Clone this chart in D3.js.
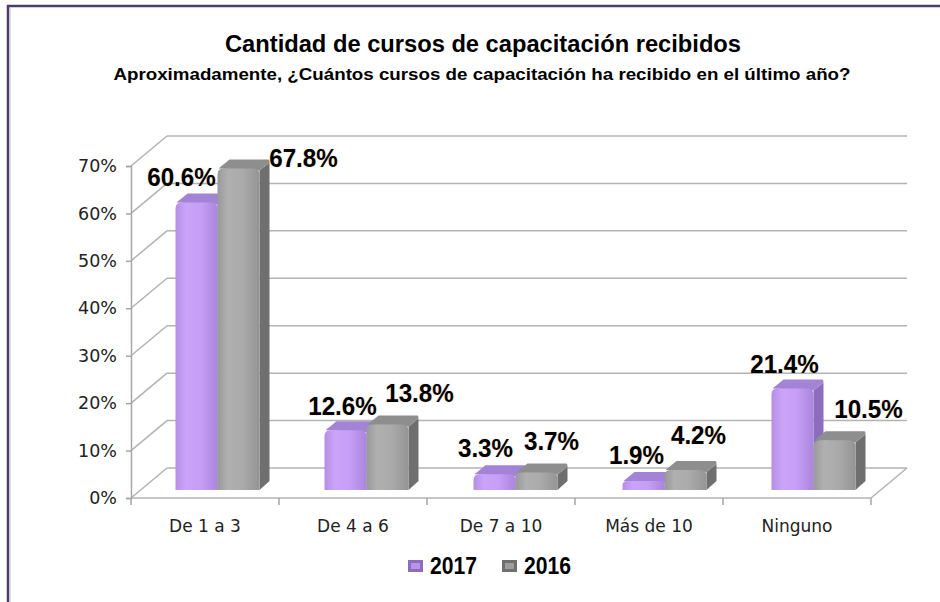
<!DOCTYPE html>
<html>
<head>
<meta charset="utf-8">
<script src="https://cdn.jsdelivr.net/npm/d3@7"></script>
<style>
  body { margin: 0; background: #fff; }
  svg { display: block; }
</style>
</head>
<body>
<div id="chart"></div>
<script>
const categories = ["De 1 a 3", "De 4 a 6", "De 7 a 10", "Más de 10", "Ninguno"];
const values2017 = [60.6, 12.6, 3.3, 1.9, 21.4];
const values2016 = [67.8, 13.8, 3.7, 4.2, 10.5];
const seriesNames = ["2017", "2016"];
const yTicks = [0, 10, 20, 30, 40, 50, 60, 70];

// label nudges (Excel placed these by hand)
const nudge2017 = [[-15, -26], [-3, -25], [-9, -27], [-7, -26], [-8, -25]];
const nudge2016 = [[65, -11], [32, -32], [15, -32], [13, -35], [34, -32]];

const width = 940, height = 602;
const DX = 36, DY = -30;          // depth of the box
const BDX = 10, BDY = -9;         // depth of a bar
const barShift = [10, -8];        // bars sit a bit into the box

const svg = d3.select("#chart").append("svg")
    .attr("width", width)
    .attr("height", height);

// squeeze text horizontally so Arial looks closer to Calibri
function condense(sel, f) {
    sel.each(function () {
        const w = this.getComputedTextLength();
        d3.select(this).attr("textLength", w * f).attr("lengthAdjust", "spacingAndGlyphs");
    });
}

const defs = svg.append("defs");
function grad(id, stops) {
    const g = defs.append("linearGradient").attr("id", id)
        .attr("x1", "0%").attr("x2", "100%").attr("y1", "0%").attr("y2", "0%");
    stops.forEach(s => g.append("stop").attr("offset", s[0]).attr("stop-color", s[1]));
}
grad("front2017", [["0%", "#b48de5"], ["25%", "#cba4f9"], ["60%", "#c69ef5"], ["100%", "#ab84dd"]]);
grad("front2016", [["0%", "#999999"], ["25%", "#b0b0b0"], ["60%", "#aaaaaa"], ["100%", "#949494"]]);

const palette = {
    "2017": { front: "url(#front2017)", top: "#a283d6", side: "#8c6cbd", flat: "#b893ea" },
    "2016": { front: "url(#front2016)", top: "#8e8e8e", side: "#6f6f6f", flat: "#9d9d9d" }
};

// frame
svg.append("line").attr("x1", 7).attr("x2", width).attr("y1", 6).attr("y2", 6)
    .attr("stroke", "#4b3c68").attr("stroke-width", 2.5);
svg.append("line").attr("x1", 8).attr("x2", 8).attr("y1", 5).attr("y2", height)
    .attr("stroke", "#4b3c68").attr("stroke-width", 2.5);
svg.append("line").attr("x1", 10).attr("x2", 10).attr("y1", 8).attr("y2", height)
    .attr("stroke", "#cbbde0").attr("stroke-width", 1);

// titles
svg.append("text")
    .attr("x", 483).attr("y", 52)
    .attr("text-anchor", "middle")
    .attr("font-family", "Liberation Sans, Arial, sans-serif")
    .attr("font-weight", "bold")
    .attr("font-size", 23)
    .attr("textLength", 516).attr("lengthAdjust", "spacingAndGlyphs")
    .text("Cantidad de cursos de capacitación recibidos");
svg.append("text")
    .attr("x", 482).attr("y", 80)
    .attr("text-anchor", "middle")
    .attr("font-family", "Liberation Sans, Arial, sans-serif")
    .attr("font-weight", "bold")
    .attr("font-size", 17)
    .attr("textLength", 737).attr("lengthAdjust", "spacingAndGlyphs")
    .text("Aproximadamente, ¿Cuántos cursos de capacitación ha recibido en el último año?");

// scales
const x = d3.scaleBand().domain(categories).range([131, 871]);
const xBar = d3.scaleBand().domain(categories).range([133, 878]);
const xSeries = d3.scaleBand().domain(seriesNames).range([0, 84]);
const y = d3.scaleLinear().domain([0, 70]).range([498, 166]);

const gridColor = "#b3b3b3";
const grid = svg.append("g").attr("fill", "none").attr("stroke", gridColor).attr("stroke-width", 1.5);

// back wall gridlines + side wall diagonals
yTicks.forEach(v => {
    grid.append("line")
        .attr("x1", x.range()[0] + DX).attr("x2", x.range()[1] + DX)
        .attr("y1", y(v) + DY).attr("y2", y(v) + DY);
    grid.append("line")
        .attr("x1", x.range()[0]).attr("x2", x.range()[0] + DX)
        .attr("y1", y(v)).attr("y2", y(v) + DY);
});
// floor
grid.append("line")
    .attr("x1", x.range()[0]).attr("x2", x.range()[1])
    .attr("y1", y(0)).attr("y2", y(0));
grid.append("line")
    .attr("x1", x.range()[1]).attr("x2", x.range()[1] + DX)
    .attr("y1", y(0)).attr("y2", y(0) + DY);

// y axis
const yAxis = d3.axisLeft(y).tickValues(yTicks).tickSize(5).tickPadding(9)
    .tickFormat(d => d + "%");
const gy = svg.append("g").attr("transform", `translate(${x.range()[0]},0)`).call(yAxis);
gy.select(".domain").attr("stroke", "#a6a6a6").attr("stroke-width", 1.5);
gy.selectAll(".tick line").attr("stroke", "#a6a6a6").attr("stroke-width", 1.5);
gy.selectAll(".tick text")
    .attr("font-family", "DejaVu Sans, sans-serif")
    .attr("font-size", 17.5)
    .attr("fill", "#222");

// x axis
const xAxis = d3.axisBottom(x).tickSize(0).tickPadding(22);
const gx = svg.append("g").attr("transform", `translate(0,${y(0)})`).call(xAxis);
gx.select(".domain").remove();
gx.selectAll(".tick text")
    .attr("font-family", "DejaVu Sans, sans-serif")
    .attr("font-size", 17)
    .attr("fill", "#222");
const bounds = categories.map(c => x(c)).concat([x.range()[1]]);
svg.append("g").selectAll("line").data(bounds).join("line")
    .attr("x1", d => d).attr("x2", d => d)
    .attr("y1", y(0)).attr("y2", y(0) + 7)
    .attr("stroke", "#a6a6a6").attr("stroke-width", 1.5);

// bars
const rows = categories.map((c, i) => [
    { cat: c, s: "2017", v: values2017[i], nudge: nudge2017[i] },
    { cat: c, s: "2016", v: values2016[i], nudge: nudge2016[i] }
]);
const barW = xSeries.bandwidth();
const barPad = (xBar.bandwidth() - xSeries.range()[1]) / 2;
const y0 = y(0) + barShift[1];

function barGeom(d) {
    const x0 = xBar(d.cat) + barPad + xSeries(d.s) + barShift[0];
    const yt = y(d.v) + barShift[1];
    return { x0, x1: x0 + barW, yt, yb: y0 };
}

const barG = svg.append("g");
rows.forEach(pair => pair.forEach(d => {
    const g = barG.append("g");
    const b = barGeom(d);
    const col = palette[d.s];
    const r = Math.min(6, (b.yb - b.yt) / 2);
    // side face
    g.append("path")
        .attr("d", `M${b.x1},${b.yt + 2}L${b.x1 + BDX},${b.yt + BDY + 3}L${b.x1 + BDX},${b.yb + BDY}L${b.x1},${b.yb}Z`)
        .attr("fill", col.side);
    // top face
    g.append("path")
        .attr("d", `M${b.x0 + 1},${b.yt}L${b.x0 + BDX + 2},${b.yt + BDY}L${b.x1 + BDX - 1},${b.yt + BDY}` +
            `Q${b.x1 + BDX},${b.yt + BDY} ${b.x1 + BDX},${b.yt + BDY + 3}L${b.x1},${b.yt + 2}Z`)
        .attr("fill", col.top);
    // front face
    g.append("path")
        .attr("d", `M${b.x0},${b.yb}L${b.x0},${b.yt + r}Q${b.x0},${b.yt} ${b.x0 + r},${b.yt}` +
            `L${b.x1 - r},${b.yt}Q${b.x1},${b.yt} ${b.x1},${b.yt + r}L${b.x1},${b.yb}Z`)
        .attr("fill", col.front);
}));

// value labels
const labels = svg.append("g")
    .attr("font-family", "Liberation Sans, Arial, sans-serif")
    .attr("font-weight", "bold")
    .attr("font-size", 26)
    .attr("text-anchor", "middle");
rows.flat().forEach(d => {
    const b = barGeom(d);
    labels.append("text")
        .attr("x", (b.x0 + b.x1) / 2 + d.nudge[0])
        .attr("y", b.yt + d.nudge[1])
        .attr("dy", "0.36em")
        .attr("fill", "#000")
        .style("text-shadow", "0 0 2px rgba(200,140,60,0.35)")
        .text(d.v.toFixed(1) + "%");
});
condense(labels.selectAll("text"), 0.93);

// legend
const legend = svg.append("g").attr("transform", "translate(408,560)");
seriesNames.forEach((s, i) => {
    const lg = legend.append("g").attr("transform", `translate(${i * 94},0)`);
    lg.append("rect").attr("width", 15).attr("height", 12).attr("fill", palette[s].side);
    lg.append("rect").attr("x", 3).attr("y", 3).attr("width", 9).attr("height", 6).attr("fill", palette[s].flat);
    lg.append("text")
        .attr("x", 22).attr("y", 6).attr("dy", "0.36em")
        .attr("font-family", "Liberation Sans, Arial, sans-serif")
        .attr("font-weight", "bold")
        .attr("font-size", 23)
        .text(s);
});
condense(legend.selectAll("text"), 0.92);
</script>
</body>
</html>
